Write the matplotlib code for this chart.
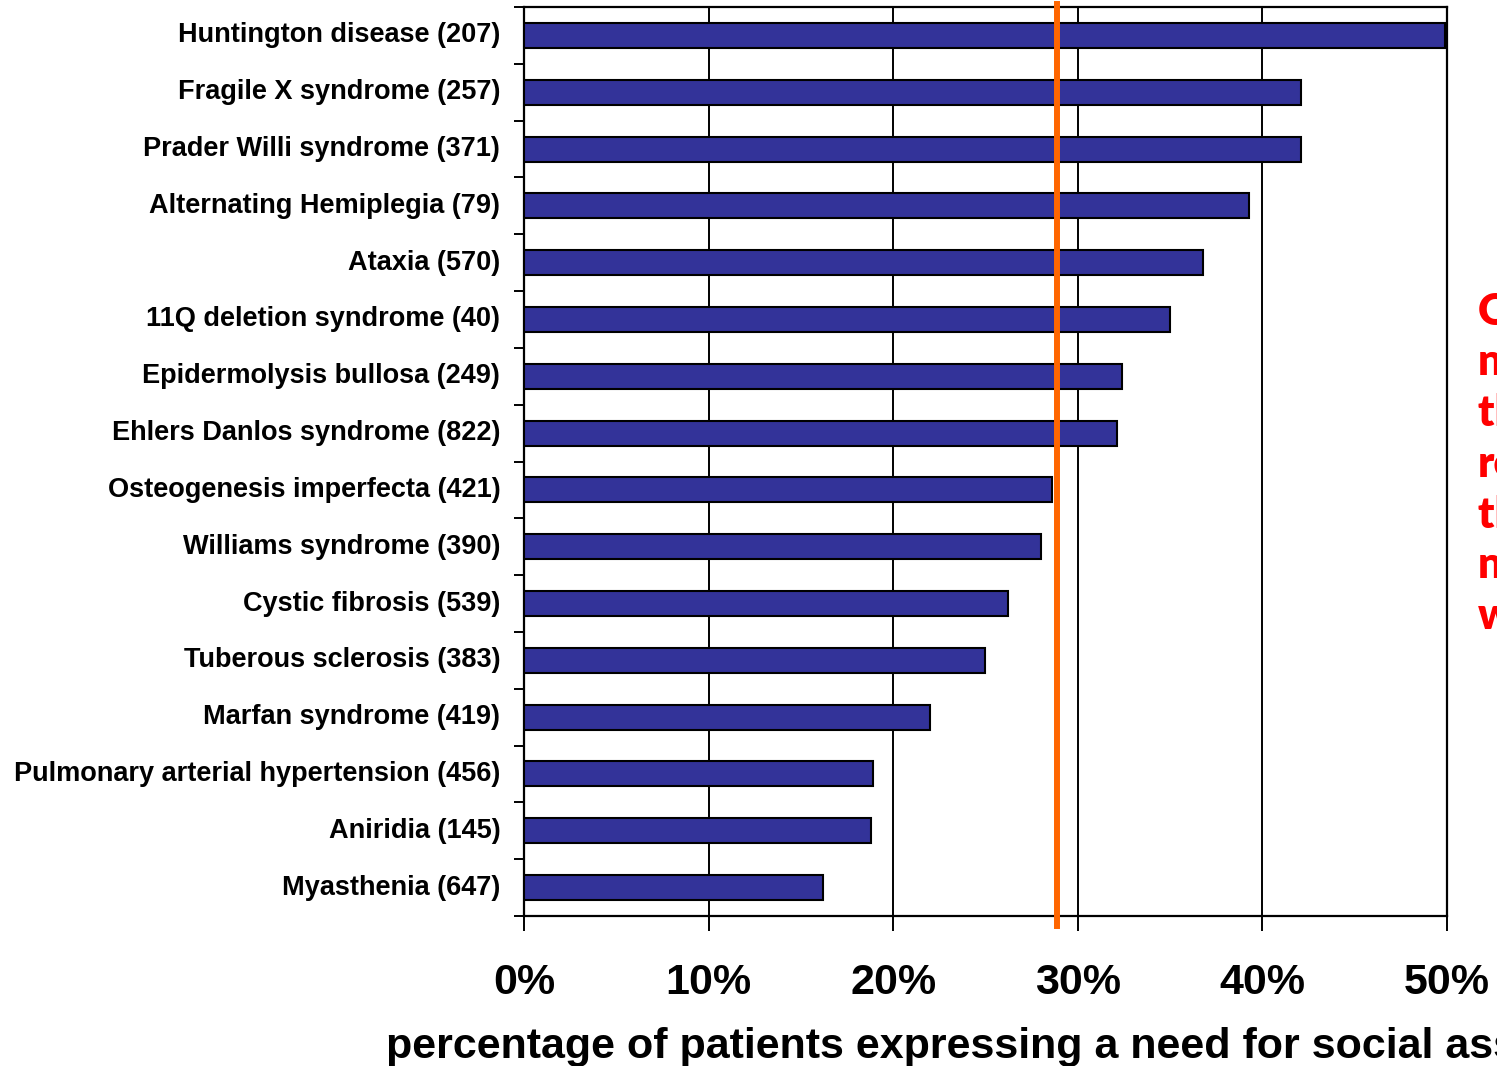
import matplotlib
matplotlib.use("Agg")
import matplotlib.pyplot as plt
import numpy as np

# Disorders (number of respondents), top to bottom
conditions = [
    "Huntington disease (207)",
    "Fragile X syndrome (257)",
    "Prader Willi syndrome (371)",
    "Alternating Hemiplegia (79)",
    "Ataxia (570)",
    "11Q deletion syndrome (40)",
    "Epidermolysis bullosa (249)",
    "Ehlers Danlos syndrome (822)",
    "Osteogenesis imperfecta (421)",
    "Williams syndrome (390)",
    "Cystic fibrosis (539)",
    "Tuberous sclerosis (383)",
    "Marfan syndrome (419)",
    "Pulmonary arterial hypertension (456)",
    "Aniridia (145)",
    "Myasthenia (647)",
]
# share of patients expressing a need for social assistance (%)
need_pct = [49.9, 42.1, 42.1, 39.3, 36.8, 35.0, 32.4, 32.1,
            28.6, 28.0, 26.2, 25.0, 22.0, 18.9, 18.8, 16.2]
overall_mean = 28.9

x_ticks = [0, 10, 20, 30, 40, 50]
x_ticklabels = ["0%", "10%", "20%", "30%", "40%", "50%"]

note = "Overall,\nnearly\nthirty per cent\nreport\nthat they\nneed\nwelfare"

plt.rcParams["font.family"] = ["Liberation Sans", "DejaVu Sans"]
plt.rcParams["font.weight"] = "bold"

fig = plt.figure(figsize=(14.97, 10.66), dpi=100)
ax = fig.add_axes([0.350, 0.1407, 0.6166, 0.8527])

y = np.arange(len(conditions))
ax.barh(y, need_pct, height=0.44, color="#333399", edgecolor="black",
        linewidth=1.5, zorder=3)

ax.set_xlim(0, 50)
ax.set_ylim(len(conditions) - 0.5, -0.5)

ax.set_xticks(x_ticks)
ax.set_xticklabels(x_ticklabels, fontsize=31, fontweight="bold")
ax.tick_params(axis="x", direction="out", length=10.8, width=1.4, pad=23)
ax.xaxis.grid(True, color="black", linewidth=1.4, zorder=1)

ax.set_yticks(y)
ax.set_yticklabels(conditions, fontsize=19.5, fontweight="bold",
                   va="bottom")
ax.set_yticks(np.arange(-0.5, len(conditions) + 0.5, 1), minor=True)
ax.tick_params(axis="y", which="major", length=0, pad=17)
ax.tick_params(axis="y", which="minor", direction="out", length=7, width=1.4)
for lbl in ax.get_yticklabels():
    lbl.set_verticalalignment("center")

for side in ax.spines.values():
    side.set_linewidth(1.6)

ax.axvline(overall_mean, ymin=-0.011, ymax=1.003, color="#FF6600",
           linewidth=4.3, zorder=4, clip_on=False)

ax.set_xlabel("percentage of patients expressing a need for social assistance",
              fontsize=31, fontweight="bold")
ax.xaxis.set_label_coords(-0.149, -0.122)
ax.xaxis.label.set_horizontalalignment("left")
ax.xaxis.label.set_verticalalignment("top")

fig.text(0.9873, 0.727, note, color="red", fontsize=31, fontweight="heavy",
         family=["Lato", "DejaVu Sans"], va="top", ha="left", linespacing=1.33)

fig.savefig("out.png", dpi=100)
